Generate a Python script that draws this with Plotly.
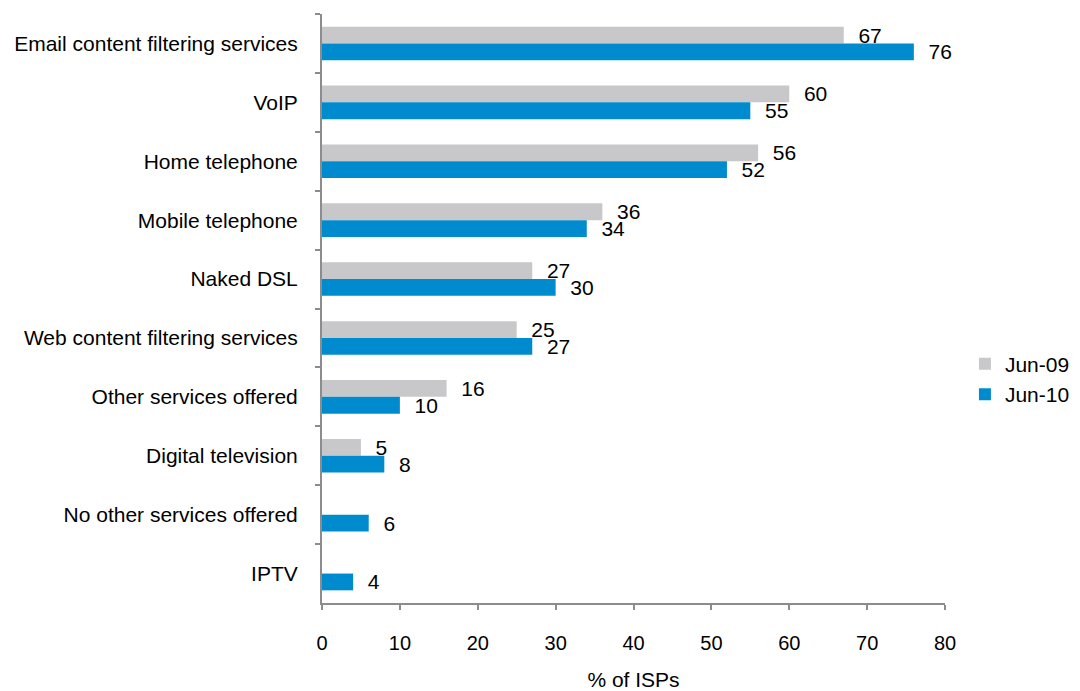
import plotly.graph_objects as go

categories = ["Email content filtering services", "VoIP", "Home telephone", "Mobile telephone",
              "Naked DSL", "Web content filtering services", "Other services offered",
              "Digital television", "No other services offered", "IPTV"]
jun09 = [67, 60, 56, 36, 27, 25, 16, 5, None, None]
jun10 = [76, 55, 52, 34, 30, 27, 10, 8, 6, 4]
x_ticks = [0, 10, 20, 30, 40, 50, 60, 70, 80]

FONT = "Liberation Sans, Arial, sans-serif"
PAD = "\u00a0\u00a0"

fig = go.Figure()
fig.add_trace(go.Bar(
    y=categories, x=jun09, name="Jun-09", orientation="h",
    marker=dict(color="#C8C8CA", line=dict(width=0)),
    text=[("" if v is None else PAD + str(v)) for v in jun09], textposition="outside",
    constraintext="none",
    textfont=dict(size=21, color="#000000", family=FONT), cliponaxis=False,
))
fig.add_trace(go.Bar(
    y=categories, x=jun10, name="Jun-10", orientation="h",
    marker=dict(color="#008BCF", line=dict(width=0)),
    text=[PAD + str(v) for v in jun10], textposition="outside",
    constraintext="none",
    textfont=dict(size=21, color="#000000", family=FONT), cliponaxis=False,
))

fig.update_layout(
    width=1080, height=691,
    margin=dict(l=312, r=143, t=6, b=96),
    paper_bgcolor="white", plot_bgcolor="white",
    barmode="group", bargap=0.43, bargroupgap=0,
    font=dict(family=FONT, size=21, color="#000000"),
    legend=dict(x=1.032, y=0.38, xanchor="left", yanchor="middle", xref="paper",
                font=dict(size=21), itemwidth=30, tracegroupgap=0,
                bgcolor="rgba(0,0,0,0)"),
    showlegend=True,
)
fig.update_xaxes(
    range=[0, 80], tickvals=x_ticks, ticktext=[str(t) for t in x_ticks],
    showgrid=False, zeroline=False, showline=True, linecolor="#8C8C8C", linewidth=2,
    ticks="outside", ticklen=5, tickcolor="#8C8C8C", tickwidth=2,
    ticklabelstandoff=16, tickfont=dict(size=20),
    title=dict(text="% of ISPs", font=dict(size=21), standoff=19),
)
fig.update_yaxes(
    autorange="reversed", showgrid=False, zeroline=False,
    showline=True, linecolor="#8C8C8C", linewidth=2,
    ticks="outside", ticklen=5, tickcolor="#8C8C8C", tickwidth=2,
    tickson="boundaries", ticklabelstandoff=18, tickfont=dict(size=21),
)

fig.write_html("out.html")
